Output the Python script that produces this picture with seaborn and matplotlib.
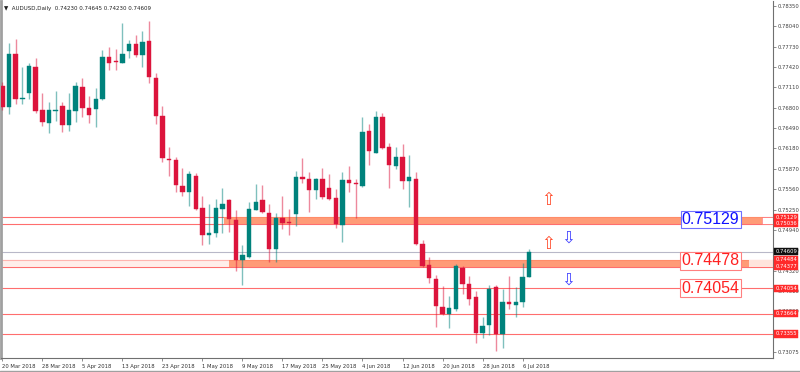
import numpy as np
import pandas as pd
import matplotlib
matplotlib.use("Agg")
import matplotlib.pyplot as plt
from matplotlib.lines import Line2D
from matplotlib.transforms import blended_transform_factory
import seaborn as sns

# ---------------- data ----------------
opens = [0.77135, 0.76816, 0.77626, 0.76933, 0.77018, 0.77428, 0.76760, 0.76568, 0.76745, 0.76821,
         0.76538, 0.76755, 0.77120, 0.76801, 0.76775, 0.76933, 0.77575, 0.77515, 0.77489, 0.77667,
         0.77768, 0.77606, 0.77818, 0.77257, 0.76676, 0.76022, 0.76007, 0.75612, 0.75514, 0.75757,
         0.75271, 0.74861, 0.74887, 0.75262, 0.75388, 0.75095, 0.74477, 0.74527, 0.75247, 0.75388,
         0.75202, 0.74644, 0.75120, 0.75054, 0.75176, 0.75753, 0.75718, 0.75551, 0.75712, 0.75575,
         0.75419, 0.75019, 0.75707, 0.75647, 0.75606, 0.76452, 0.76113, 0.76654, 0.76198, 0.75915,
         0.76057, 0.75682, 0.75718, 0.74731, 0.74401, 0.74199, 0.73768, 0.73657, 0.73733, 0.74360,
         0.74123, 0.73911, 0.73364, 0.73490, 0.74072, 0.73349, 0.73835, 0.73798, 0.73835, 0.74230]
highs = [0.77200, 0.77784, 0.77844, 0.77428, 0.77489, 0.77565, 0.77024, 0.76892, 0.77059, 0.76892,
         0.77018, 0.77200, 0.77252, 0.76983, 0.77100, 0.77677, 0.77727, 0.77702, 0.78092, 0.77838,
         0.77905, 0.77970, 0.78122, 0.77322, 0.76831, 0.76198, 0.76057, 0.75879, 0.75844, 0.75809,
         0.75454, 0.75338, 0.75404, 0.75581, 0.75404, 0.75247, 0.74705, 0.75363, 0.75642, 0.75627,
         0.75338, 0.75202, 0.75449, 0.75252, 0.75844, 0.76037, 0.75818, 0.75733, 0.75885, 0.75794,
         0.75566, 0.75829, 0.75920, 0.75718, 0.76654, 0.76553, 0.76755, 0.76714, 0.76259, 0.76198,
         0.76250, 0.76087, 0.75818, 0.74791, 0.74527, 0.74260, 0.74082, 0.73930, 0.74427, 0.74386,
         0.74234, 0.74006, 0.73616, 0.74097, 0.74097, 0.74047, 0.74234, 0.74072, 0.74436, 0.74645]
lows = [0.76771, 0.76705, 0.76857, 0.76857, 0.76933, 0.76725, 0.76517, 0.76411, 0.76603, 0.76436,
        0.76452, 0.76588, 0.76654, 0.76568, 0.76502, 0.76922, 0.77378, 0.77373, 0.77480, 0.77560,
        0.77575, 0.77428, 0.77176, 0.76553, 0.75970, 0.75757, 0.75514, 0.75454, 0.75302, 0.75237,
        0.74716, 0.74731, 0.74831, 0.74898, 0.74907, 0.74310, 0.74097, 0.74518, 0.75237, 0.75195,
        0.74451, 0.74451, 0.74948, 0.74857, 0.74998, 0.75651, 0.75211, 0.75408, 0.75404, 0.75388,
        0.74968, 0.74755, 0.75514, 0.75120, 0.75596, 0.75931, 0.76107, 0.76174, 0.75581, 0.75870,
        0.75566, 0.75287, 0.74705, 0.74375, 0.74132, 0.73464, 0.73650, 0.73449, 0.73707, 0.73961,
        0.73794, 0.73221, 0.73297, 0.73338, 0.73095, 0.73136, 0.73728, 0.73607, 0.73759, 0.74230]
closes = [0.76816, 0.77626, 0.76933, 0.76948, 0.77439, 0.76755, 0.76588, 0.76766, 0.76771, 0.76538,
          0.76766, 0.77124, 0.76796, 0.76695, 0.76933, 0.77575, 0.77480, 0.77500, 0.77616, 0.77768,
          0.77610, 0.77808, 0.77261, 0.76676, 0.76031, 0.76011, 0.75627, 0.75514, 0.75794, 0.75262,
          0.74867, 0.74887, 0.75277, 0.75338, 0.75110, 0.74477, 0.74553, 0.75262, 0.75358, 0.75211,
          0.74655, 0.75120, 0.75044, 0.75039, 0.75753, 0.75718, 0.75551, 0.75712, 0.75439, 0.75414,
          0.75024, 0.75707, 0.75651, 0.75636, 0.76436, 0.76137, 0.76664, 0.76183, 0.75935, 0.76057,
          0.75682, 0.75753, 0.74731, 0.74386, 0.74214, 0.73778, 0.73657, 0.73753, 0.74386, 0.74123,
          0.73895, 0.73364, 0.73479, 0.74047, 0.73349, 0.73835, 0.73809, 0.73839, 0.74223, 0.74609]

date_labels = ["20 Mar 2018", "28 Mar 2018", "5 Apr 2018", "13 Apr 2018", "23 Apr 2018",
               "1 May 2018", "9 May 2018", "17 May 2018", "25 May 2018", "4 Jun 2018",
               "12 Jun 2018", "20 Jun 2018", "28 Jun 2018", "6 Jul 2018"]
price_ticks = [0.78350, 0.78040, 0.77730, 0.77420, 0.77110, 0.76800, 0.76490, 0.76180, 0.75870,
               0.75560, 0.75250, 0.74940, 0.74630, 0.74320, 0.74010, 0.73700, 0.73385, 0.73075]
price_tick_labels = ["0.78350", "0.78040", "0.77730", "0.77420", "0.77110", "0.76800", "0.76490",
                     "0.76180", "0.75870", "0.75560", "0.75250", "0.74940", "0.74630", "0.74320",
                     "0.74010", "0.73700", "0.73385", "0.73075"]

red_levels = [0.75129, 0.75036, 0.74484, 0.74377, 0.74054, 0.73664, 0.73355]
red_level_labels = ["0.75129", "0.75036", "0.74484", "0.74377", "0.74054", "0.73664", "0.73355"]
current_price = 0.74609
current_label = "0.74609"
zone_upper = (0.75036, 0.75129)
zone_lower = (0.74377, 0.74484)
box_texts = ["0.75129", "0.74478", "0.74054"]
box_prices = [0.75100, 0.74470, 0.74054]
up_arrow_prices = [0.75388, 0.74720]
down_arrow_prices = [0.74826, 0.74188]
title_text = "AUDUSD,Daily  0.74230 0.74645 0.74230 0.74609"

# ---------------- style ----------------
sns.set_theme(style="white")
plt.rcParams["font.family"] = ["DejaVu Sans"]

GREEN = "#00827C"
RED = "#DC143C"
LEVEL = "#FF6E6E"
ZONE = "#FF9068"

df = pd.DataFrame({"open": opens, "high": highs, "low": lows, "close": closes})
df["idx"] = np.arange(len(df))
df["up"] = df["close"] >= df["open"]

fig = plt.figure(figsize=(8, 3.72), dpi=100)
ax = fig.add_axes([1 / 800, 1 - 358 / 372, 772 / 800, 357 / 372])
ax.set_facecolor("white")

# horizontal levels
for lv in red_levels:
    ax.axhline(lv, color=LEVEL, lw=0.8, zorder=1)
ax.axhline(current_price, color="#B8B8C8", lw=0.8, zorder=1)

# zones (rectangles)
ax.fill_between([33.3, 113.9], zone_upper[0], zone_upper[1], color=ZONE, alpha=0.9, lw=0, zorder=1.5)
ax.fill_between([113.9, 115.6], zone_upper[0], zone_upper[1], color="white", ec=LEVEL, lw=0.5, zorder=1.5)
ax.fill_between([-1, 34.0], zone_lower[0], zone_lower[1], color="#FFE4DC", alpha=0.6, lw=0, zorder=1.2)
ax.fill_between([34.0, 112.0], zone_lower[0], zone_lower[1], color=ZONE, alpha=0.9, lw=0, zorder=1.5)
ax.fill_between([112.0, 115.6], zone_lower[0], zone_lower[1], color="#FFE4DC", lw=0, zorder=1.5)

# candles
colors = np.where(df["up"], GREEN, RED)
ax.vlines(df["idx"], df["low"], df["high"], colors=colors, lw=1.0, alpha=0.5, zorder=3)
body_bottom = np.minimum(df["open"], df["close"])
body_h = np.maximum(np.abs(df["close"] - df["open"]), 0.00006)
ax.bar(df["idx"], body_h, bottom=body_bottom, width=0.66, color=colors,
       edgecolor=colors, linewidth=0.3, zorder=4)

# arrows
for p in up_arrow_prices:
    ax.text(81.8, p, "\u21e7", color="#FF4A2A", fontsize=12, ha="center", va="center", zorder=5)
for p in down_arrow_prices:
    ax.text(84.8, p, "\u21e9", color="#4040FF", fontsize=12, ha="center", va="center", zorder=5)

# big price boxes
for t, p in zip(box_texts, box_prices):
    c = "#1010FF" if t == "0.75129" else "#FF2020"
    ec = "#7070FF" if t == "0.75129" else "#FF8080"
    ax.text(106.2, p, t, color=c, fontsize=11.5, family=["Liberation Sans"], ha="center", va="center",
            zorder=6, bbox=dict(boxstyle="square,pad=0.08", fc="white", ec=ec, lw=0.8))

# axes limits
ax.set_xlim(-0.2, 115.55)
ax.set_ylim(0.72989, 0.78426)

# spines
ax.spines["top"].set_visible(False)
ax.spines["left"].set_color("#A0A0A0")
ax.spines["left"].set_linewidth(2.0)
ax.spines["right"].set_color("#707070")
ax.spines["right"].set_linewidth(0.8)
ax.spines["bottom"].set_color("#707070")
ax.spines["bottom"].set_linewidth(0.8)

# y ticks on right
ax.yaxis.tick_right()
ax.set_yticks(price_ticks)
ax.set_yticklabels(price_tick_labels)
ax.tick_params(axis="y", which="both", right=True, left=False, length=2, width=0.5,
               color="#606060", labelsize=3.8, labelcolor="#404040", pad=1.5)

# x ticks
xt = np.arange(0, len(df), 6)
ax.set_xticks(xt)
ax.set_xticklabels(date_labels)
ax.tick_params(axis="x", which="both", bottom=True, length=2.5, width=0.5, color="#606060",
               labelsize=3.8, labelcolor="#303030", pad=1.5)
for lab in ax.get_xticklabels():
    lab.set_ha("left")

# right-axis level labels
tr = blended_transform_factory(ax.transAxes, ax.transData)
for t, p in zip(red_level_labels, red_levels):
    ax.text(1.003, p, t, transform=tr, fontsize=3.8, color="white", ha="left", va="center",
            clip_on=False, zorder=7,
            bbox=dict(boxstyle="square,pad=0.2", fc="#FF2A2A", ec="#FF2A2A", lw=0.3))
ax.text(1.003, current_price, current_label, transform=tr, fontsize=3.8, color="white", ha="left",
        va="center", clip_on=False, zorder=7,
        bbox=dict(boxstyle="square,pad=0.2", fc="#101010", ec="#101010", lw=0.3))

# title
ax.text(0.004, 0.985, "\u25bc  " + title_text, transform=ax.transAxes, fontsize=4,
        color="#202020", ha="left", va="top", zorder=8)

# window frame bottom line
fig.add_artist(Line2D([0, 1], [1 / 372, 1 / 372], transform=fig.transFigure, color="#A0A0A0", lw=1.0))

fig.savefig("out.png", dpi=100)
